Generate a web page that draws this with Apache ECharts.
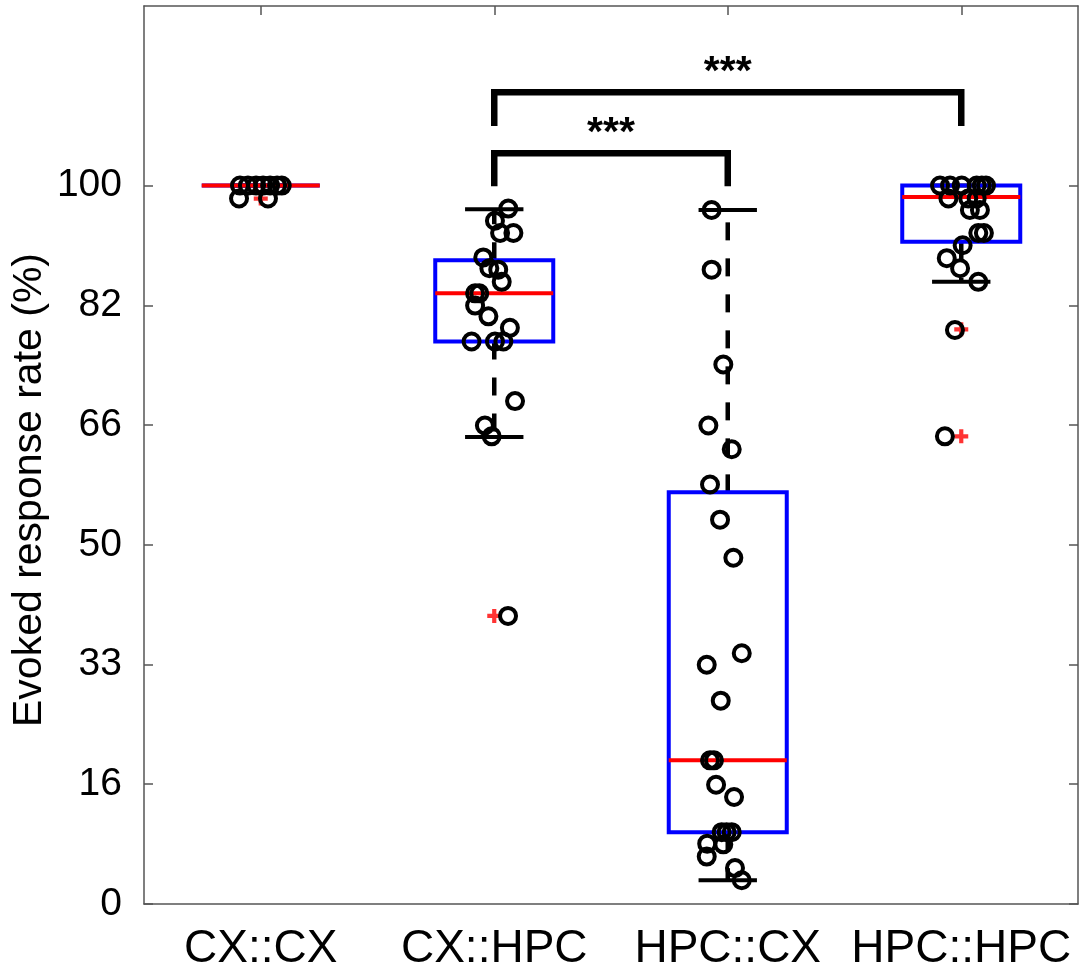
<!DOCTYPE html>
<html>
<head>
<meta charset="utf-8">
<title>Evoked response rate</title>
<script src="https://cdn.jsdelivr.net/npm/echarts@6.0.0/dist/echarts.min.js"></script>
<style>
    html, body { margin: 0; padding: 0; background: #fff; }
    #main { width: 1084px; height: 972px; }
</style>
</head>
<body>
<div id="main"></div>
<script>
// categories and tick labels
var groups = ['CX::CX', 'CX::HPC', 'HPC::CX', 'HPC::HPC'];
var yTickValues = [0, 16.67, 33.33, 50, 66.67, 83.33, 100];
var yTickLabels = ['0', '16', '33', '50', '66', '82', '100'];

// box stats: [lower whisker, Q1, median, Q3, upper whisker]
var boxCxCx   = [100, 100, 100, 100, 100];
var boxCxHpc  = [65.0, 78.3, 85.0, 89.6, 96.7];
var boxHpcCx  = [3.3, 10.0, 20.0, 57.3, 96.6];
var boxHpcHpc = [86.6, 92.2, 98.4, 100, 100];

// outliers (+): group index and value
var outlierGroup = [0, 1, 3, 3];
var outlierValue = [98.2, 40.1, 80.0, 65.1];

// individual points (o): value and horizontal jitter (category units)
var cxcxValue  = [100, 100, 100, 100, 100, 100, 100, 98.2, 98.2];
var cxcxJitter = [-0.089, -0.055, -0.020, 0.010, 0.040, 0.070, 0.090, -0.093, 0.031];

var cxhpcValue  = [96.8, 95.1, 93.4, 93.4, 90.0, 88.5, 88.3, 86.6, 85.0, 85.0, 83.3, 81.8, 80.2, 78.3, 78.3, 78.3, 70.0, 66.6, 65.1, 40.1];
var cxhpcJitter = [0.060, 0.003, 0.025, 0.082, -0.047, -0.021, 0.017, 0.032, -0.082, -0.064, -0.082, -0.025, 0.067, -0.097, 0.003, 0.039, 0.089, -0.040, -0.011, 0.059];

var hpccxValue  = [96.6, 88.3, 75.1, 66.6, 63.3, 58.4, 53.5, 48.2, 34.9, 33.3, 28.3, 20.0, 20.0, 16.6, 14.9, 10.0, 10.0, 10.0, 8.4, 8.3, 6.6, 5.0, 3.3];
var hpccxJitter = [-0.069, -0.069, -0.019, -0.083, 0.017, -0.076, -0.033, 0.024, 0.060, -0.090, -0.030, -0.076, -0.059, -0.050, 0.027, -0.026, -0.005, 0.017, -0.088, -0.019, -0.090, 0.031, 0.060];

var hpchpcValue  = [100, 100, 100, 100, 100, 100, 98.2, 98.2, 98.2, 96.6, 96.6, 93.4, 93.4, 91.7, 89.9, 88.5, 86.6, 79.9, 65.1];
var hpchpcJitter = [-0.091, -0.048, 0.002, 0.066, 0.088, 0.106, -0.055, 0.030, 0.066, 0.037, 0.080, 0.073, 0.097, 0.006, -0.062, -0.005, 0.073, -0.027, -0.070];

// significance brackets
var bracketFrom  = [2, 2];
var bracketTo    = [3, 4];
var bracketBar   = [104.5, 113.0];
var bracketLeg   = [99.9, 108.3];
var bracketLabel = ['***', '***'];

var FONT = 'Liberation Sans, Arial, sans-serif';
var AXIS_COLOR = '#555';
var BOX_HALF = 0.2527;
var CAP_HALF = 0.125;

var boxData = [boxCxCx, boxCxHpc, boxHpcCx, boxHpcHpc].map(function (b, i) {
    return [i + 1].concat(b);
});

var pointData = [];
[[cxcxValue, cxcxJitter], [cxhpcValue, cxhpcJitter], [hpccxValue, hpccxJitter], [hpchpcValue, hpchpcJitter]].forEach(function (g, i) {
    for (var k = 0; k < g[0].length; k++) {
        pointData.push([i + 1 + g[1][k], g[0][k]]);
    }
});

var outlierData = outlierGroup.map(function (g, i) {
    return [g + 1, outlierValue[i]];
});

var bracketData = bracketFrom.map(function (f, i) {
    return [f, bracketTo[i], bracketBar[i], bracketLeg[i], i];
});

function renderBox(params, api) {
    var x = api.value(0);
    var lo = api.value(1), q1 = api.value(2), med = api.value(3), q3 = api.value(4), hi = api.value(5);
    function c(px, py) { return api.coord([px, py]); }
    function seg(a, b, style) {
        return { type: 'line', shape: { x1: a[0], y1: a[1], x2: b[0], y2: b[1] }, style: style };
    }
    var dashed = { stroke: '#000', lineWidth: 4.5, lineDash: [18, 18], lineCap: 'butt' };
    var solid = { stroke: '#000', lineWidth: 4, lineCap: 'butt' };
    var tl = c(x - BOX_HALF, q3), tr = c(x + BOX_HALF, q3), br = c(x + BOX_HALF, q1), bl = c(x - BOX_HALF, q1);
    return {
        type: 'group',
        children: [
            seg(c(x, q3), c(x, hi), dashed),
            seg(c(x, q1), c(x, lo), dashed),
            seg(c(x - CAP_HALF, hi), c(x + CAP_HALF, hi), solid),
            seg(c(x - CAP_HALF, lo), c(x + CAP_HALF, lo), solid),
            { type: 'polygon', shape: { points: [tl, tr, br, bl] },
              style: { fill: 'none', stroke: '#0000ff', lineWidth: 4, lineJoin: 'miter' } },
            seg(c(x - BOX_HALF, med), c(x + BOX_HALF, med), { stroke: '#ff0000', lineWidth: 4 })
        ]
    };
}

function renderBracket(params, api) {
    var f = api.value(0), t = api.value(1), bar = api.value(2), leg = api.value(3);
    var p1 = api.coord([f, leg]), p2 = api.coord([f, bar]), p3 = api.coord([t, bar]), p4 = api.coord([t, leg]);
    return {
        type: 'group',
        children: [
            { type: 'polyline', shape: { points: [p1, p2, p3, p4] },
              style: { fill: 'none', stroke: '#000', lineWidth: 6.5, lineJoin: 'miter', lineCap: 'butt' } },
            { type: 'text', x: (p2[0] + p3[0]) / 2, y: p2[1] - 20,
              style: { text: bracketLabel[api.value(4)], fontSize: 41, fontWeight: 'bold', fontFamily: FONT,
                       fill: '#000', align: 'center', verticalAlign: 'middle' } }
        ]
    };
}

var myChart = echarts.init(document.getElementById('main'));
var lineStyle = { color: AXIS_COLOR, width: 1.5 };

var option = {
    backgroundColor: '#fff',
    animation: false,
    grid: { left: 144, right: 6, top: 6, bottom: 66 },
    graphic: [{
        type: 'text', x: 30, y: 490, rotation: Math.PI / 2,
        style: { text: 'Evoked response rate (%)', fontSize: 41, fontFamily: FONT, fill: '#000',
                 align: 'center', verticalAlign: 'middle' }
    }],
    xAxis: [
        {
            type: 'category',
            data: groups,
            position: 'bottom',
            axisLine: { onZero: false, lineStyle: lineStyle },
            axisTick: { alignWithLabel: true, inside: true, length: 9, lineStyle: lineStyle },
            axisLabel: { interval: 0, color: '#000', fontSize: 46, fontFamily: FONT, margin: 22 },
            splitLine: { show: false }
        },
        {
            type: 'value',
            position: 'top',
            min: 0.5,
            max: 4.5,
            axisLine: { show: true, onZero: false, lineStyle: lineStyle },
            axisTick: { show: true, inside: true, length: 9, lineStyle: lineStyle, customValues: [1, 2, 3, 4] },
            axisLabel: { show: false },
            splitLine: { show: false }
        }
    ],
    yAxis: [
        {
            type: 'value',
            position: 'left',
            min: 0,
            max: 125,
            axisLine: { show: true, onZero: false, lineStyle: lineStyle },
            axisTick: { show: true, inside: true, length: 9, lineStyle: lineStyle, customValues: yTickValues },
            axisLabel: {
                customValues: yTickValues,
                color: '#000', fontSize: 39, fontFamily: FONT, margin: 22,
                formatter: function (v) {
                    for (var i = 0; i < yTickValues.length; i++) {
                        if (Math.abs(yTickValues[i] - v) < 0.01) return yTickLabels[i];
                    }
                    return '';
                }
            },
            splitLine: { show: false }
        },
        {
            type: 'value',
            position: 'right',
            min: 0,
            max: 125,
            axisLine: { show: true, onZero: false, lineStyle: lineStyle },
            axisTick: { show: true, inside: true, length: 9, lineStyle: lineStyle, customValues: yTickValues },
            axisLabel: { show: false },
            splitLine: { show: false }
        }
    ],
    series: [
        {
            type: 'custom', name: 'box', xAxisIndex: 1, yAxisIndex: 0,
            renderItem: renderBox, data: boxData, silent: true, z: 2
        },
        {
            type: 'scatter', name: 'outliers', xAxisIndex: 1, yAxisIndex: 0,
            symbol: 'path://M3.5,0H6.5V3.5H10V6.5H6.5V10H3.5V6.5H0V3.5H3.5Z', symbolSize: 14,
            itemStyle: { color: '#ff0000' }, data: outlierData, silent: true, z: 3
        },
        {
            type: 'scatter', name: 'points', xAxisIndex: 1, yAxisIndex: 0,
            symbol: 'circle', symbolSize: 16,
            itemStyle: { color: 'rgba(0,0,0,0)', borderColor: '#000', borderWidth: 4, opacity: 1 },
            data: pointData, silent: true, z: 4
        },
        {
            type: 'custom', name: 'brackets', xAxisIndex: 1, yAxisIndex: 0,
            renderItem: renderBracket, data: bracketData, silent: true, z: 5
        }
    ]
};

myChart.setOption(option);
</script>
</body>
</html>
